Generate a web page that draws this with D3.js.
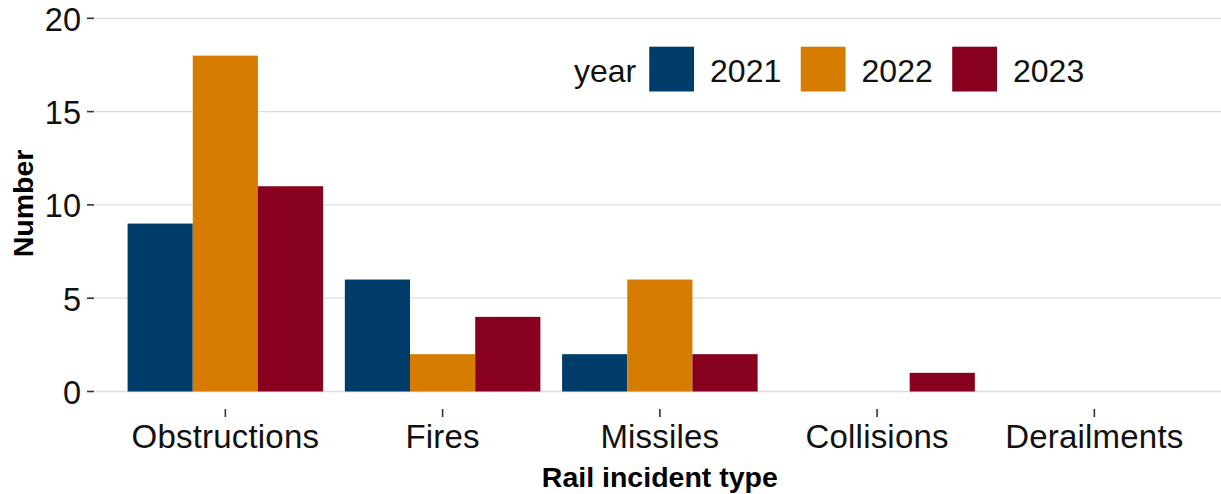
<!DOCTYPE html>
<html>
<head>
<meta charset="utf-8">
<script src="https://cdn.jsdelivr.net/npm/d3@7"></script>
<style>
  html, body { margin: 0; padding: 0; background: #fff; }
  svg { display: block; font-family: "Liberation Sans", Arial, sans-serif; }
</style>
</head>
<body>
<svg id="chart" width="1221" height="494"></svg>
<script>
const categories = ["Obstructions", "Fires", "Missiles", "Collisions", "Derailments"];
const years = ["2021", "2022", "2023"];
const values2021 = [9, 6, 2, 0, 0];
const values2022 = [18, 2, 6, 0, 0];
const values2023 = [11, 4, 2, 1, 0];
const yTicks = [0, 5, 10, 15, 20];
const colors = ["#003C69", "#D67C00", "#87001E"];
const xTitle = "Rail incident type";
const yTitle = "Number";
const legendTitle = "year";

(function () {
const seriesValues = [values2021, values2022, values2023];
const data = [];
categories.forEach((c, i) => {
  years.forEach((yr, j) => data.push({ cat: c, year: yr, value: seriesValues[j][i] }));
});

const svg = d3.select("#chart");
const W = 1221;
const pLeft = 95, step = 217.25;
const pRight = pLeft + step * 5.2;
const pTop = 18.3, pBottom = 391.5;

// ggplot-style discrete scale: expansion of 0.6 step on each side
const xc = d3.scalePoint().domain(categories).range([pLeft + 0.6 * step, pRight - 0.6 * step]);
const groupW = 0.9 * step;
const xInner = d3.scaleBand().domain(years).range([-groupW / 2, groupW / 2]).padding(0);

const y = d3.scaleLinear().domain([0, 20]).range([pBottom, pTop]);
const color = d3.scaleOrdinal().domain(years).range(colors);

// gridlines
svg.append("g").selectAll("line").data(yTicks).join("line")
  .attr("x1", pLeft).attr("x2", W)
  .attr("y1", d => y(d)).attr("y2", d => y(d))
  .attr("stroke", "#DEDEDE").attr("stroke-width", 1.3);

// bars
svg.append("g").selectAll("rect").data(data.filter(d => d.value > 0)).join("rect")
  .attr("x", d => xc(d.cat) + xInner(d.year))
  .attr("width", xInner.bandwidth())
  .attr("y", d => y(d.value))
  .attr("height", d => y(0) - y(d.value))
  .attr("fill", d => color(d.year));

// y axis ticks + labels
const yAxis = svg.append("g");
yAxis.selectAll("line").data(yTicks).join("line")
  .attr("x1", 87).attr("x2", 94)
  .attr("y1", d => y(d)).attr("y2", d => y(d))
  .attr("stroke", "#333").attr("stroke-width", 1.6);
yAxis.selectAll("text").data(yTicks).join("text")
  .attr("x", 81).attr("y", d => y(d) + 12.5)
  .attr("text-anchor", "end")
  .attr("font-size", 32.5).attr("fill", "#111")
  .text(d => d);

// x axis ticks + labels
const xAxis = svg.append("g");
xAxis.selectAll("line").data(categories).join("line")
  .attr("x1", d => xc(d)).attr("x2", d => xc(d))
  .attr("y1", 409).attr("y2", 417)
  .attr("stroke", "#333").attr("stroke-width", 1.6);
xAxis.selectAll("text").data(categories).join("text")
  .attr("x", d => xc(d)).attr("y", 448)
  .attr("text-anchor", "middle")
  .attr("font-size", 33).attr("letter-spacing", 0.2).attr("fill", "#111")
  .text(d => d);

// axis titles
svg.append("text")
  .attr("x", (pLeft + pRight) / 2).attr("y", 487)
  .attr("text-anchor", "middle")
  .attr("font-size", 28.5).attr("font-weight", "bold").attr("fill", "#000")
  .text(xTitle);
svg.append("text")
  .attr("transform", "translate(33,203.5) rotate(-90)")
  .attr("text-anchor", "middle")
  .attr("font-size", 28.5).attr("font-weight", "bold").attr("fill", "#000")
  .text(yTitle);

// legend
const lg = svg.append("g");
const keyY = 46.7, keySize = 44.8, baseY = 81.5;
let cx = 574;
const lt = lg.append("text").attr("x", cx).attr("y", baseY)
  .attr("font-size", 32).attr("fill", "#111").text(legendTitle);
cx += lt.node().getComputedTextLength() + 13;
years.forEach((yr) => {
  lg.append("rect").attr("x", cx).attr("y", keyY)
    .attr("width", keySize).attr("height", keySize)
    .attr("fill", color(yr));
  cx += keySize + 16;
  const t = lg.append("text").attr("x", cx).attr("y", baseY)
    .attr("font-size", 32).attr("fill", "#111").text(yr);
  cx += t.node().getComputedTextLength() + 19.5;
});
})();
</script>
</body>
</html>
